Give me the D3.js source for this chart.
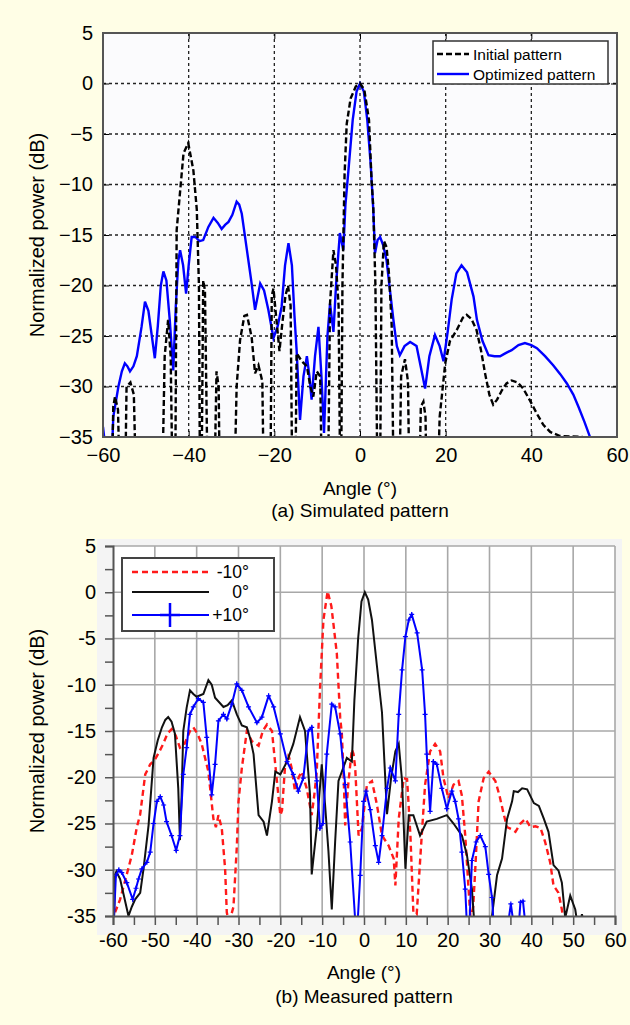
<!doctype html>
<html>
<head>
<meta charset="utf-8">
<style>
  body { margin: 0; background: #fffee6; }
  svg { display: block; font-family: "Liberation Sans", Arial, sans-serif; }
</style>
<script src="https://d3js.org/d3.v7.min.js"></script>
</head>
<body>
<svg width="630" height="1025"></svg>
<script>
// ---- (a) simulated pattern: [angle (deg), normalized power (dB)] ----
var initialPattern = [
  [-58.2,-45],[-57.6,-32],[-57.2,-31],[-56.5,-32.3],[-55.8,-45],
  [-55.0,-45],[-54.5,-30],[-53.6,-29.6],[-52.8,-30.8],[-52.0,-45],
  [-46.4,-45],[-45.6,-27],[-44.8,-23.4],[-44.2,-27],[-43.6,-45],
  [-43.2,-45],[-42.8,-14.5],[-41.2,-6.9],[-40.1,-5.9],[-38.9,-8.6],[-38.1,-12.5],[-37.6,-20],[-37.3,-45],
  [-37.1,-45],[-36.6,-19.5],[-36.2,-20.5],[-35.4,-45],
  [-34.2,-45],[-33.5,-28.5],[-33.0,-30],[-32.6,-45],
  [-29.6,-45],[-28.8,-30],[-28,-25.4],[-27,-23],[-26.4,-22.9],[-25.3,-25.1],[-24.5,-28.7],[-23.7,-27.9],[-22.8,-29.5],[-22.3,-45],
  [-21.0,-45],[-20.6,-21],[-20.2,-20.3],[-19.6,-23],[-18.8,-26.5],[-18.2,-24],[-17.4,-21],[-16.8,-20],[-16.2,-22],[-15.7,-45],
  [-15.2,-45],[-14.8,-26.7],[-13.6,-27.5],[-12.4,-28],[-11.6,-30],[-10.9,-31],[-10.1,-28.5],[-9.3,-29],[-8.7,-45],
  [-7.6,-45],[-7.0,-21.8],[-6.2,-16.5],[-5.6,-18],[-5.0,-22],[-4.5,-45],[-4.1,-20],[-3.6,-9],[-3.1,-4],[-2.2,-1.5],[-1,-0.3],
  [0,0],[1,-0.6],[2.1,-3.6],[2.7,-9.6],[3.1,-12.2],[3.6,-20],[4.2,-45],
  [4.6,-45],[5.0,-20],[5.6,-15.6],[6.2,-16.2],[6.8,-19],[7.4,-24],[8.0,-45],
  [9.0,-45],[9.6,-29],[10.5,-27.3],[11.2,-29.5],[11.7,-45],
  [13.6,-45],[14.2,-32],[14.8,-31.5],[15.3,-33],[15.7,-45],
  [17.8,-45],[18.6,-33],[19.9,-27.7],[21,-25.5],[22.6,-24.4],[24,-23.2],[24.9,-22.9],[26,-23.3],[27.2,-24.4],
  [28.2,-26.3],[29.2,-28.7],[30.2,-30.8],[31.1,-31.8],[32,-31.3],[33.1,-30.4],[34.2,-29.7],[35.4,-29.4],
  [36.8,-29.6],[38.1,-30.2],[39.7,-31.4],[41.3,-32.7],[42.8,-33.8],[44.4,-34.5],[46.7,-34.9],[52,-35]
];
var optimizedPattern = [
  [-60,-34],[-59.6,-35.5],[-58.8,-45],[-58.2,-40],[-57.6,-33],[-57.2,-32],[-56.4,-30],[-55.6,-28.5],[-54.9,-27.7],
  [-54.3,-28],[-53.7,-28.5],[-52.9,-28],[-52.1,-27],[-51,-24.1],[-50.2,-21.6],[-49.4,-22.5],[-48.6,-25],[-47.9,-27.2],
  [-47.2,-24],[-46.5,-20],[-45.9,-18.6],[-45.2,-19.5],[-44.4,-23.5],[-43.6,-28.4],[-43.0,-22],[-42.4,-17.5],[-42,-16.5],
  [-41.3,-18],[-40.6,-20.8],[-40,-18],[-39.3,-15.2],[-38.4,-15.2],[-37.5,-15.6],[-36.6,-15.5],[-35.4,-14.2],[-34.2,-13.3],
  [-33.2,-13.8],[-32.3,-14.4],[-31.5,-14],[-30.7,-13.7],[-29.8,-13],[-28.8,-11.7],[-28.2,-12],[-27.6,-12.9],[-26.4,-16.5],
  [-25.4,-19.5],[-24.5,-22.4],[-23.3,-19.8],[-22.4,-20.5],[-21.4,-22.4],[-20.2,-25.2],[-19.2,-24],[-18.3,-22.1],[-17.5,-18],
  [-16.7,-15.8],[-15.9,-18],[-15.3,-23],[-14.8,-26.4],[-14.0,-33.3],[-13.2,-29],[-12.4,-27.0],[-11.8,-29],[-11.3,-31.3],
  [-10.5,-27],[-9.7,-24.1],[-9,-29],[-8.4,-34.6],[-7.6,-25],[-7.0,-21.8],[-6.2,-24.6],[-5.6,-20],[-5.1,-17.1],[-4.7,-14.8],
  [-3.9,-16.5],[-3.4,-12],[-2.7,-8.6],[-1.7,-3.6],[-0.8,-0.8],[0,0],[0.9,-0.8],[1.7,-3.6],[2.5,-8],[3.1,-12.5],[3.5,-16.8],
  [4.1,-15.5],[4.7,-15.2],[5.4,-16],[6.2,-17.5],[7,-20.5],[7.8,-23.4],[8.6,-26],[9.3,-26.9],[10.4,-26],[11.7,-25.6],
  [13.2,-26.0],[14.3,-28.3],[15.2,-30.2],[16.2,-27],[17.5,-24.9],[18.6,-26],[19.5,-27.5],[20.5,-24.5],[21.4,-21.4],
  [22.5,-18.8],[23.7,-18.0],[25,-18.7],[26.5,-21.1],[27.3,-23.4],[28.6,-25.5],[30,-26.9],[31.4,-27.0],[32.7,-27.0],
  [34,-26.7],[35.4,-26.4],[37,-25.9],[38.5,-25.7],[40,-25.9],[41.3,-26.2],[43.2,-27],[45.1,-27.9],[46.8,-28.8],
  [48.3,-29.7],[49.8,-30.8],[51,-32],[52.4,-33.5],[53.7,-35],[54.2,-36]
];

// ---- (b) measured pattern ----
var measuredM10 = [
  [-59.5,-34.6],[-58.3,-33.2],[-56.7,-30.5],[-55.5,-28.4],[-54.3,-25.4],[-53.5,-24],[-52.3,-19.7],[-51.1,-18.6],[-50,-18.1],
  [-49,-17.3],[-48,-16.4],[-47,-15.3],[-46,-14.8],[-45,-15.5],[-44,-16.8],[-43,-16.5],[-41.6,-15],[-40.8,-14.6],[-39.8,-15.3],
  [-38.8,-16.4],[-37.2,-19.4],[-36,-24.5],[-35.4,-25.4],[-34.8,-24.1],[-34,-25.5],[-33.2,-29.9],[-32.8,-34.6],[-32.4,-35.5],
  [-31.8,-35],[-31.2,-34],[-30.4,-27.5],[-30,-22.6],[-29.2,-19],[-28,-15],[-26.8,-16.1],[-25.2,-16.6],[-24.2,-15],[-23.2,-14.3],
  [-22,-15],[-20.8,-20.5],[-20,-24.1],[-19.6,-23.6],[-18.9,-19],[-18.1,-17.5],[-17.3,-19],[-16.5,-21.5],[-15.6,-20],[-14.9,-19.4],
  [-13.7,-21.2],[-12.5,-24.1],[-11.9,-22],[-11.3,-19.4],[-10.5,-10.3],[-9.7,-3],[-8.7,0.1],[-7.8,-1.5],[-6.5,-6.6],[-5.7,-13.5],
  [-5.3,-15.3],[-4.9,-19.4],[-4.5,-25.2],[-3.7,-20.4],[-2.9,-17],[-2.5,-17.5],[-2.1,-19],[-1.3,-26.3],[-0.5,-25.5],[0.7,-20.8],
  [1.9,-20.4],[3.1,-23],[4.3,-26.3],[5.9,-27.4],[7.1,-28.8],[7.5,-31.7],[8.3,-24.5],[9.5,-20.1],[10.3,-20.2],[11.1,-26.3],
  [11.8,-34.6],[12.6,-34.8],[13.8,-26.3],[14.6,-20.8],[15.8,-17.2],[17,-16.4],[18.2,-17.2],[19,-20.1],[20.2,-22.3],[21.4,-20.8],
  [22.6,-20.4],[23.4,-22],[24.2,-26.3],[25,-32.1],[25.5,-35.5],[26.1,-34],[26.6,-29.9],[27.4,-22.6],[28.6,-20.1],[29.8,-19.4],
  [31.4,-20.4],[32.4,-22],[33.4,-24],[34.2,-25.4],[35.2,-25.6],[36.2,-25.9],[37.4,-25],[38.6,-24.5],[39.8,-25.4],[41,-25.3],
  [42.2,-25.5],[43.3,-27],[44.5,-29.2],[45.3,-31.7],[46.5,-32.5],[47.3,-34.3],[47.8,-36]
];
var measured0 = [
  [-59.8,-36],[-59.5,-30.5],[-59.2,-30.2],[-58.3,-31],[-57.3,-33],[-56.3,-35],[-55.5,-34],[-54.7,-33.2],[-53.5,-32.5],
  [-52.7,-29.9],[-51.5,-25.2],[-50.3,-17.9],[-49.3,-16],[-48.3,-14.6],[-47.5,-13.8],[-46.8,-13.5],[-46,-14],[-45.2,-15.3],
  [-44.4,-21.2],[-44,-26.8],[-43.6,-22],[-43.2,-15],[-42.4,-12.5],[-41.6,-10.6],[-40.8,-11],[-40,-11.3],[-38.4,-11],
  [-37.2,-9.5],[-36.4,-10],[-35.6,-11.4],[-33.6,-12.4],[-32.6,-12.2],[-31.6,-11.7],[-30.4,-13.2],[-29.2,-14.4],[-28,-14.6],
  [-27.2,-15.8],[-26.4,-17.5],[-25.2,-24.1],[-24,-24.8],[-23.2,-26.3],[-22,-22.6],[-21.2,-19.4],[-20,-19.7],[-18.4,-18.3],
  [-16.9,-16.4],[-15.3,-13.5],[-14.1,-15],[-12.9,-21.9],[-12.5,-30.5],[-11.3,-25.5],[-10.1,-18.6],[-9.3,-23],[-8.5,-28],
  [-7.7,-34.3],[-6.9,-27],[-6.1,-20.4],[-4.1,-17.9],[-2.9,-18.3],[-2.3,-11.7],[-1.4,-5],[-0.6,-1],[0.2,0],[1,-0.8],[1.9,-3],
  [3.1,-8],[4.3,-13],[5.5,-24],[6.5,-20],[7.5,-17.2],[8.3,-16.4],[9.1,-20.4],[9.9,-29.9],[10.7,-24.1],[11.8,-24.1],
  [13.4,-26.3],[15,-24.8],[17.4,-24.5],[19.8,-24.1],[21.4,-25],[23.4,-26.3],[24.6,-28.4],[25.8,-32.1],[26.4,-36],
  [30.4,-36],[30.6,-35],[31.8,-30.6],[33,-28.8],[34.2,-24.5],[35.4,-22.6],[35.8,-21.5],[36.8,-21.6],[37.8,-21.2],[39,-21.3],
  [40.6,-22.8],[41.8,-23.1],[43,-24.5],[44.1,-25.9],[45.3,-29.5],[46.5,-30.1],[47.3,-31.4],[48.1,-35.2],[49.3,-32.8],
  [50.5,-34.3],[50.9,-35.5],[51.8,-35.5],[52.1,-34.8],[52.4,-35.5]
];
var measuredP10 = [
  [-59.8,-35.5],[-59.3,-30.6],[-58.6,-30],[-57.9,-30.3],[-56.7,-31.4],[-55.3,-33.2],[-54.5,-32],[-53.9,-31],[-53.1,-29.9],
  [-51.9,-29.2],[-51.1,-28.1],[-50.3,-25],[-49.5,-22.6],[-48.7,-22.1],[-47.9,-23],[-47.2,-24.8],[-46,-26.3],[-44.9,-27.9],
  [-44,-26.3],[-43.2,-19.7],[-42.4,-16.8],[-41.6,-13.2],[-40.8,-12.4],[-39.6,-11.5],[-38.4,-11.9],[-37.6,-15.7],[-36.4,-21.9],
  [-35.6,-18.6],[-34.8,-13.9],[-33.6,-13.2],[-32.8,-13.7],[-31.6,-12.1],[-30.4,-9.9],[-29.2,-10.6],[-27.6,-12.4],[-25.6,-14.1],
  [-24.4,-13.5],[-22.8,-11.2],[-21.6,-12.4],[-20,-15.3],[-18.4,-18.3],[-16.9,-19.7],[-15.7,-21.5],[-14.5,-20.1],[-13.3,-15],
  [-12.5,-14.6],[-11.3,-20.4],[-10.5,-25.5],[-9.8,-25],[-8.9,-17.5],[-7.7,-12.1],[-6.9,-12.4],[-5.7,-15.3],[-4.5,-20.8],
  [-3.3,-27],[-2.1,-35.5],[-1.5,-35.5],[-0.9,-30.6],[-0.1,-22.6],[0.5,-21.5],[1.5,-23.5],[2.7,-27.4],[3.5,-29.2],[4.3,-26.3],
  [5.5,-21.2],[6.3,-19],[7.5,-20.4],[8.3,-13.2],[9.1,-8.4],[9.9,-4.8],[10.7,-3],[11.4,-2.4],[12.7,-4.4],[13.9,-8.4],
  [14.6,-13.2],[15,-17.5],[15.8,-23.7],[16.6,-18.3],[17.4,-18.6],[18.6,-21.2],[19.8,-23.4],[21,-21.5],[21.8,-22.6],
  [22.6,-24.5],[23.4,-28.1],[24.2,-32.1],[24.6,-36],[25.2,-36],[25.8,-29],[26.8,-27],[27.8,-26.3],[29,-27.5],[29.8,-30.5],
  [30.6,-33],[31,-36],[34.4,-36],[35.1,-33.7],[35.8,-36],[37,-36],[37.4,-33.5],[38,-33.4],[38.6,-36]
];

var topXTicks = [-60, -40, -20, 0, 20, 40, 60];
var topYTicks = [5, 0, -5, -10, -15, -20, -25, -30, -35];
var botXTicks = [-60, -50, -40, -30, -20, -10, 0, 10, 20, 30, 40, 50, 60];
var botYTicks = [5, 0, -5, -10, -15, -20, -25, -30, -35];

var svg = d3.select("svg");

// ================= (a) simulated =================
var xa = d3.scaleLinear().domain([-60, 60]).range([103, 617]);
var ya = d3.scaleLinear().domain([-35, 5]).range([437, 33]);

svg.append("rect")
  .attr("x", 103).attr("y", 33).attr("width", 514).attr("height", 404)
  .attr("fill", "#fbfbfd");

svg.append("clipPath").attr("id", "clipA")
  .append("rect").attr("x", 103).attr("y", 33).attr("width", 514).attr("height", 404);

var ga = svg.append("g");
// dotted grid
ga.selectAll(".gx").data(topXTicks.slice(1, -1)).enter().append("line")
  .attr("x1", d => xa(d)).attr("x2", d => xa(d)).attr("y1", 33).attr("y2", 437)
  .attr("stroke", "#222").attr("stroke-width", 1.3).attr("stroke-dasharray", "3,3");
ga.selectAll(".gy").data(topYTicks.slice(1, -1)).enter().append("line")
  .attr("y1", d => ya(d)).attr("y2", d => ya(d)).attr("x1", 103).attr("x2", 617)
  .attr("stroke", "#222").attr("stroke-width", 1.3).attr("stroke-dasharray", "3,3");

var lineA = d3.line().x(d => xa(d[0])).y(d => ya(d[1]));
var plotA = svg.append("g").attr("clip-path", "url(#clipA)");
plotA.append("path").datum(optimizedPattern)
  .attr("d", lineA).attr("fill", "none").attr("stroke", "#0000ff").attr("stroke-width", 2.4);
plotA.append("path").datum(initialPattern)
  .attr("d", lineA).attr("fill", "none").attr("stroke", "#000").attr("stroke-width", 2.4)
  .attr("stroke-dasharray", "6,3");

// axes with inward ticks
svg.append("g").attr("transform", "translate(0,437)")
  .call(d3.axisBottom(xa).tickValues(topXTicks).tickSize(-6).tickPadding(11).tickFormat(d3.format("d")));
svg.append("g").attr("transform", "translate(0,33)")
  .call(d3.axisTop(xa).tickValues(topXTicks).tickSize(-6).tickFormat(""));
svg.append("g").attr("transform", "translate(103,0)")
  .call(d3.axisLeft(ya).tickValues(topYTicks).tickSize(-6).tickPadding(10).tickFormat(d3.format("d")));
svg.append("g").attr("transform", "translate(617,0)")
  .call(d3.axisRight(ya).tickValues(topYTicks).tickSize(-6).tickFormat(""));

svg.append("rect")
  .attr("x", 103).attr("y", 33).attr("width", 514).attr("height", 404)
  .attr("fill", "none").attr("stroke", "#555").attr("stroke-width", 2);

// legend (a)
var la = svg.append("g").attr("transform", "translate(433,41)");
la.append("rect").attr("width", 175).attr("height", 43)
  .attr("fill", "#fff").attr("stroke", "#333").attr("stroke-width", 1.5);
la.append("line").attr("x1", 4).attr("x2", 36).attr("y1", 13).attr("y2", 13)
  .attr("stroke", "#000").attr("stroke-width", 2.4).attr("stroke-dasharray", "6,3");
la.append("line").attr("x1", 4).attr("x2", 36).attr("y1", 33).attr("y2", 33)
  .attr("stroke", "#0000ff").attr("stroke-width", 2.4);
la.append("text").attr("x", 40).attr("y", 18.5).attr("font-size", 15.5).text("Initial pattern");
la.append("text").attr("x", 40).attr("y", 38.5).attr("font-size", 15.5).text("Optimized pattern");

svg.append("text").attr("x", 360).attr("y", 495).attr("text-anchor", "middle")
  .attr("font-size", 19).text("Angle (\u00b0)");
svg.append("text").attr("x", 360).attr("y", 517).attr("text-anchor", "middle")
  .attr("font-size", 19).text("(a) Simulated pattern");
svg.append("text").attr("transform", "translate(44,235) rotate(-90)")
  .attr("text-anchor", "middle").attr("font-size", 20).text("Normalized power (dB)");

// ================= (b) measured =================
var xb = d3.scaleLinear().domain([-60, 60]).range([113, 615]);
var yb = d3.scaleLinear().domain([-35, 5]).range([916, 546]);

svg.append("rect")
  .attr("x", 97).attr("y", 539).attr("width", 525).attr("height", 396)
  .attr("fill", "#f4f4f4");
svg.append("rect")
  .attr("x", 113).attr("y", 546).attr("width", 502).attr("height", 370)
  .attr("fill", "#ffffff");

svg.append("clipPath").attr("id", "clipB")
  .append("rect").attr("x", 113).attr("y", 546).attr("width", 502).attr("height", 370);

var gb = svg.append("g");
gb.selectAll(".gx").data(botXTicks.slice(1)).enter().append("line")
  .attr("x1", d => xb(d)).attr("x2", d => xb(d)).attr("y1", 546).attr("y2", 916)
  .attr("stroke", "#a8a8a8").attr("stroke-width", 1.6);
gb.selectAll(".gy").data(botYTicks.slice(0, -1)).enter().append("line")
  .attr("y1", d => yb(d)).attr("y2", d => yb(d)).attr("x1", 113).attr("x2", 615)
  .attr("stroke", "#a8a8a8").attr("stroke-width", 1.6);

var lineB = d3.line().x(d => xb(d[0])).y(d => yb(d[1]));
var plotB = svg.append("g").attr("clip-path", "url(#clipB)");
plotB.append("path").datum(measuredM10)
  .attr("d", lineB).attr("fill", "none").attr("stroke", "#ff1a1a").attr("stroke-width", 2.4)
  .attr("stroke-dasharray", "6,4");
plotB.append("path").datum(measured0)
  .attr("d", lineB).attr("fill", "none").attr("stroke", "#111").attr("stroke-width", 2);
plotB.append("path").datum(measuredP10)
  .attr("d", lineB).attr("fill", "none").attr("stroke", "#0000ff").attr("stroke-width", 2);
plotB.selectAll(".mk").data(measuredP10).enter().append("path")
  .attr("transform", d => "translate(" + xb(d[0]) + "," + yb(d[1]) + ")")
  .attr("d", "M-2.5,0H2.5M0,-2.5V2.5").attr("stroke", "#0000ff").attr("stroke-width", 1.2);

// axes (outward ticks)
var axB = svg.append("g").attr("transform", "translate(0,916)")
  .call(d3.axisBottom(xb).tickValues(d3.range(-60, 61, 5)).tickSize(9).tickPadding(8)
    .tickFormat(d => d % 10 === 0 ? d : ""));
var ayB = svg.append("g").attr("transform", "translate(113,0)")
  .call(d3.axisLeft(yb).tickValues(d3.range(-35, 5.1, 2.5)).tickSize(8).tickPadding(9)
    .tickFormat(d => d % 5 === 0 ? d : ""));
[axB, ayB].forEach(function (a) {
  a.select(".domain").attr("stroke", "#555").attr("stroke-width", 2);
  a.selectAll(".tick line").attr("stroke", "#555").attr("stroke-width", 1.5);
});

// legend (b)
var lb = svg.append("g").attr("transform", "translate(122,558)");
lb.append("rect").attr("width", 152).attr("height", 73)
  .attr("fill", "#fff").attr("stroke", "#444").attr("stroke-width", 2);
lb.append("line").attr("x1", 10).attr("x2", 87).attr("y1", 14).attr("y2", 14)
  .attr("stroke", "#ff1a1a").attr("stroke-width", 2.4).attr("stroke-dasharray", "6,4");
lb.append("line").attr("x1", 10).attr("x2", 87).attr("y1", 34).attr("y2", 34)
  .attr("stroke", "#111").attr("stroke-width", 2);
lb.append("line").attr("x1", 10).attr("x2", 87).attr("y1", 57).attr("y2", 57)
  .attr("stroke", "#0000ff").attr("stroke-width", 2);
lb.append("path").attr("d", "M48,45V69M38,57H58").attr("stroke", "#0000ff").attr("stroke-width", 2.5);
lb.append("text").attr("x", 127).attr("y", 20).attr("text-anchor", "end").attr("font-size", 17.5).text("-10\u00b0");
lb.append("text").attr("x", 127).attr("y", 40).attr("text-anchor", "end").attr("font-size", 17.5).text("0\u00b0");
lb.append("text").attr("x", 127).attr("y", 63).attr("text-anchor", "end").attr("font-size", 17.5).text("+10\u00b0");

svg.append("text").attr("x", 364).attr("y", 979).attr("text-anchor", "middle")
  .attr("font-size", 19).text("Angle (\u00b0)");
svg.append("text").attr("x", 364).attr("y", 1003).attr("text-anchor", "middle")
  .attr("font-size", 19).text("(b) Measured pattern");
svg.append("text").attr("transform", "translate(44,731) rotate(-90)")
  .attr("text-anchor", "middle").attr("font-size", 20).text("Normalized power (dB)");

svg.selectAll(".tick text").attr("font-size", 20).attr("fill", "#000")
  .attr("font-family", "'Liberation Sans', Arial, sans-serif");
</script>
</body>
</html>
